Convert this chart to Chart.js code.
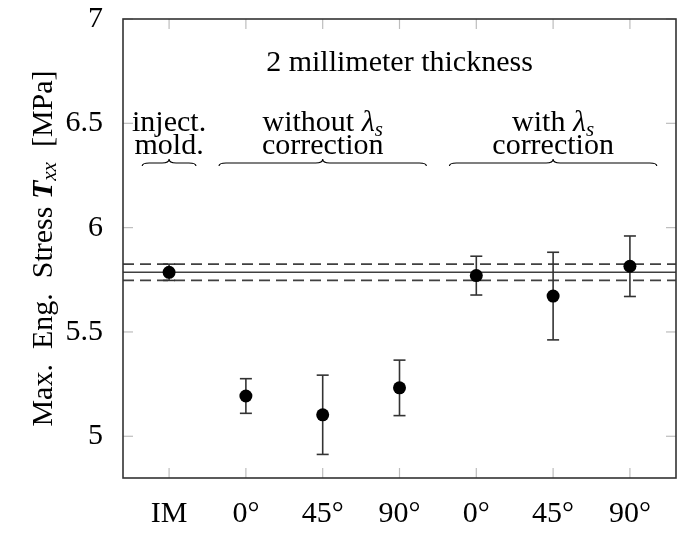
<!DOCTYPE html>
<html><head><meta charset="utf-8">
<script src="https://cdn.jsdelivr.net/npm/chart.js@4.4.0/dist/chart.umd.min.js"></script>
<style>html,body{margin:0;padding:0;background:#fff;}#wrap{width:685px;height:541px;}</style>
</head><body><div id="wrap"><canvas id="c" width="685" height="541"></canvas></div>
<script>
// ---- data ----
const categories = ['IM', '0°', '45°', '90°', '0°', '45°', '90°'];
const stressMean = [5.786, 5.193, 5.103, 5.232, 5.770, 5.672, 5.815];
const stressErr  = [0.039, 0.083, 0.190, 0.133, 0.093, 0.210, 0.145];
const refMean = 5.786;
const refBand = 0.039;
const yTickValues = [5, 5.5, 6, 6.5, 7];
const plotTitle = '2 millimeter thickness';
const groupLabels = [['inject.', 'mold.'], ['without λ_s', 'correction'], ['with λ_s', 'correction']];
const groupFirst = [0, 1, 4];
const groupLast  = [0, 3, 6];
const yAxisTitle = [['Max.  Eng.  Stress ', 'n'], ['T', 'bi'], ['xx', 'sub'], ['  [MPa]', 'n']];

// ---- layout (not data) ----
const FONT = '"Liberation Serif", "DejaVu Serif", serif';
const FS = 30;
const layoutPos = { titleY: 6.751, line1Y: 6.463, line2Y: 6.355, braceY: 6.31, braceHalf: 0.35 };

function drawRich(ctx, text, cx, baseY) {
  const parts = [];
  const m = text.match(/^(.*?)(λ)_(\w)(.*)$/);
  if (m) {
    parts.push({t: m[1], f: `${FS}px ${FONT}`, dy: 0});
    parts.push({t: m[2], f: `italic ${FS}px ${FONT}`, dy: 0});
    parts.push({t: m[3], f: `italic ${Math.round(FS*0.7)}px ${FONT}`, dy: 5});
    if (m[4]) parts.push({t: m[4], f: `${FS}px ${FONT}`, dy: 0});
  } else parts.push({t: text, f: `${FS}px ${FONT}`, dy: 0});
  let w = 0;
  parts.forEach(p => { ctx.font = p.f; p.w = ctx.measureText(p.t).width; w += p.w; });
  let xx = cx - w / 2;
  ctx.textAlign = 'left'; ctx.textBaseline = 'alphabetic';
  parts.forEach(p => { ctx.font = p.f; ctx.fillText(p.t, xx, baseY + p.dy); xx += p.w; });
}

function brace(ctx, x0, x1, yh) {
  const xc = (x0 + x1) / 2, d = 3, tip = 4, r = 7;
  ctx.beginPath();
  ctx.moveTo(x0, yh + d);
  ctx.quadraticCurveTo(x0, yh, x0 + r, yh);
  ctx.lineTo(xc - r, yh);
  ctx.quadraticCurveTo(xc, yh, xc, yh - tip);
  ctx.quadraticCurveTo(xc, yh, xc + r, yh);
  ctx.lineTo(x1 - r, yh);
  ctx.quadraticCurveTo(x1, yh, x1, yh + d);
  ctx.stroke();
}

const decor = {
  id: 'decor',
  beforeDatasetsDraw(chart) {
    const {ctx, chartArea: a, scales: {x, y}} = chart;
    ctx.save();
    const seg = (x0, y0, x1, y1) => { ctx.beginPath(); ctx.moveTo(x0, y0); ctx.lineTo(x1, y1); ctx.stroke(); };
    ctx.strokeStyle = '#bdbdbd'; ctx.lineWidth = 1.2;
    x.ticks.forEach(t => { const px = x.getPixelForValue(t.value); seg(px, a.bottom, px, a.bottom - 10); seg(px, a.top, px, a.top + 10); });
    y.ticks.forEach(t => { const py = y.getPixelForValue(t.value); seg(a.left, py, a.left + 10, py); seg(a.right, py, a.right - 10, py); });
    ctx.strokeStyle = '#404040';
    ctx.lineWidth = 1.4; ctx.setLineDash([]);
    seg(a.left, y.getPixelForValue(refMean), a.right, y.getPixelForValue(refMean));
    ctx.lineWidth = 1.8; ctx.setLineDash([11, 6]);
    seg(a.left, y.getPixelForValue(refMean + refBand), a.right, y.getPixelForValue(refMean + refBand));
    seg(a.left, y.getPixelForValue(refMean - refBand), a.right, y.getPixelForValue(refMean - refBand));
    ctx.setLineDash([]);
    ctx.strokeStyle = '#333'; ctx.lineWidth = 1.6;
    stressMean.forEach((v, i) => {
      const px = x.getPixelForValue(i);
      const pt = y.getPixelForValue(v + stressErr[i]);
      const pb = y.getPixelForValue(v - stressErr[i]);
      seg(px, pt, px, pb);
      seg(px - 6, pt, px + 6, pt);
      seg(px - 6, pb, px + 6, pb);
    });
    ctx.restore();
  },
  afterDraw(chart) {
    const {ctx, chartArea: a, scales: {x, y}} = chart;
    ctx.save();
    ctx.strokeStyle = '#333'; ctx.lineWidth = 1.6;
    ctx.strokeRect(a.left, a.top, a.right - a.left, a.bottom - a.top);
    ctx.fillStyle = '#000';
    drawRich(ctx, plotTitle, (a.left + a.right) / 2, y.getPixelForValue(layoutPos.titleY));
    ctx.strokeStyle = '#000'; ctx.lineWidth = 1.1;
    groupLabels.forEach((lines, g) => {
      const x0 = x.getPixelForValue(groupFirst[g] - layoutPos.braceHalf);
      const x1 = x.getPixelForValue(groupLast[g] + layoutPos.braceHalf);
      const cx = (x0 + x1) / 2;
      drawRich(ctx, lines[0], cx, y.getPixelForValue(layoutPos.line1Y));
      drawRich(ctx, lines[1], cx, y.getPixelForValue(layoutPos.line2Y));
      brace(ctx, x0, x1, y.getPixelForValue(layoutPos.braceY));
    });
    const fonts = {n: `${FS}px ${FONT}`, bi: `italic bold ${FS}px ${FONT}`, sub: `italic ${Math.round(FS*0.7)}px ${FONT}`};
    let w = 0;
    const parts = yAxisTitle.map(([t, s]) => { ctx.font = fonts[s]; const pw = ctx.measureText(t).width; w += pw; return {t, s, pw}; });
    ctx.translate(44, (a.top + a.bottom) / 2);
    ctx.rotate(-Math.PI / 2);
    ctx.textAlign = 'left'; ctx.textBaseline = 'middle';
    let xx = -w / 2;
    parts.forEach(p => { ctx.font = fonts[p.s]; ctx.fillText(p.t, xx, p.s === 'sub' ? 6 : 0); xx += p.pw; });
    ctx.restore();
  }
};

new Chart(document.getElementById('c'), {
  type: 'scatter',
  data: {
    datasets: [{
      data: stressMean.map((v, i) => ({x: i, y: v})),
      pointRadius: 6.5, pointHoverRadius: 6.5,
      backgroundColor: '#000', borderWidth: 0
    }]
  },
  options: {
    responsive: false, animation: false, devicePixelRatio: 1,
    events: [],
    layout: {padding: {top: 19, right: 9, left: 0, bottom: 0}},
    plugins: {legend: {display: false}, tooltip: {enabled: false}},
    scales: {
      x: {
        type: 'linear', min: -0.6, max: 6.6,
        afterBuildTicks: s => { s.ticks = categories.map((c, i) => ({value: i})); },
        afterFit: s => { s.height = 63; s.paddingLeft = 0; s.paddingRight = 0; },
        grid: {display: false}, border: {display: false},
        ticks: {autoSkip: false, maxRotation: 0, padding: 10, color: '#000',
          font: {family: FONT, size: FS},
          callback: v => categories[v]}
      },
      y: {
        type: 'linear', min: 4.8, max: 7,
        afterBuildTicks: s => { s.ticks = yTickValues.map(v => ({value: v})); },
        afterFit: s => { s.width = 123; s.paddingTop = 0; s.paddingBottom = 0; },
        grid: {display: false}, border: {display: false},
        ticks: {padding: 12, color: '#000', font: {family: FONT, size: FS},
          callback: v => String(v)}
      }
    }
  },
  plugins: [decor]
});
</script></body></html>
